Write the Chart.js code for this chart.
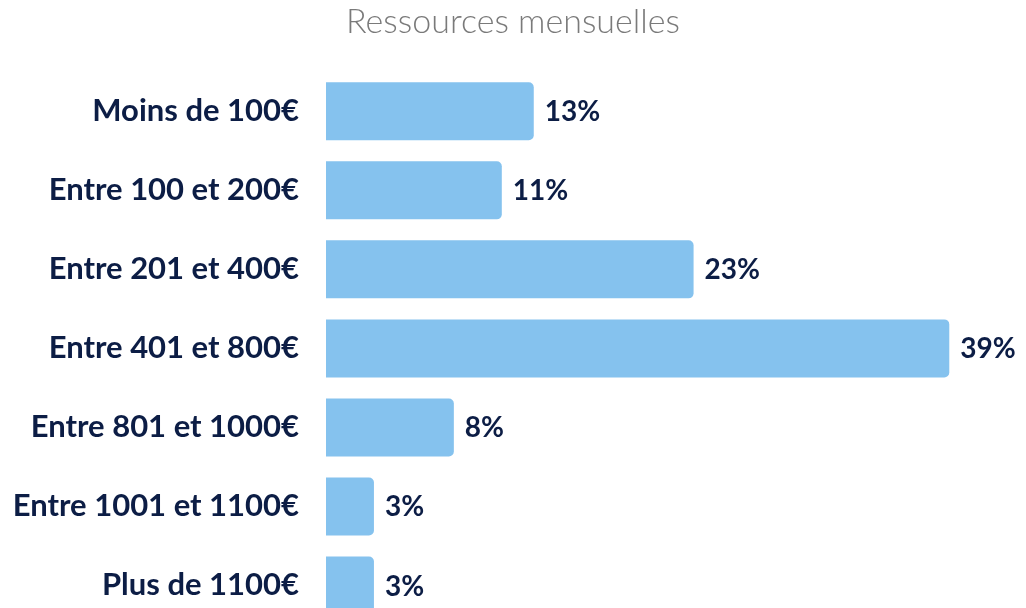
<!DOCTYPE html>
<html>
<head>
<meta charset="utf-8">
<script src="https://cdn.jsdelivr.net/npm/chart.js@4.4.0/dist/chart.umd.min.js"></script>
<style>
  html, body { margin: 0; padding: 0; background: #fff; overflow: hidden; }
  #myChart { display: block; }
</style>
</head>
<body>
<canvas id="myChart" width="1026" height="625"></canvas>
<script>
let labels = ['Moins de 100€', 'Entre 100 et 200€', 'Entre 201 et 400€', 'Entre 401 et 800€',
              'Entre 801 et 1000€', 'Entre 1001 et 1100€', 'Plus de 1100€'];
let values = [13, 11, 23, 39, 8, 3, 3];

const navy = '#0c1d45';

// writes the percentage to the right of each bar
const valueLabels = {
    id: 'valueLabels',
    afterDatasetsDraw(chart) {
        const ctx = chart.ctx;
        const meta = chart.getDatasetMeta(0);
        ctx.save();
        ctx.font = 'bold 28px Lato';
        ctx.fillStyle = navy;
        ctx.textAlign = 'left';
        ctx.textBaseline = 'middle';
        meta.data.forEach((bar, i) => {
            ctx.fillText(values[i] + '%', bar.x + 11, bar.y + 1);
        });
        ctx.restore();
    }
};

const data = {
    labels: labels,
    datasets: [{
        data: values,
        backgroundColor: '#85c2ee',
        borderWidth: 0,
        borderRadius: { topRight: 5, bottomRight: 5 },
        borderSkipped: 'start',
        categoryPercentage: 0.734,
        barPercentage: 1
    }]
};

const config = {
    type: 'bar',
    data: data,
    plugins: [valueLabels],
    options: {
        indexAxis: 'y',
        responsive: false,
        animation: false,
        layout: { padding: 0 },
        plugins: {
            legend: { display: false },
            tooltip: { enabled: false },
            title: {
                display: true,
                text: 'Ressources mensuelles',
                color: '#7a7a7a',
                font: { family: 'Lato', size: 34, weight: '300', lineHeight: 1.2 },
                padding: { top: 2, bottom: 29 }
            }
        },
        scales: {
            x: {
                display: false,
                min: 0,
                max: 43.8
            },
            y: {
                afterFit(axis) {
                    axis.width = 326;
                    axis.paddingTop = 0;
                    axis.paddingBottom = 0;
                },
                grid: { display: false, drawTicks: false },
                border: { display: false },
                ticks: {
                    color: navy,
                    padding: 27,
                    font: { family: 'Lato', size: 31, weight: 'bold' }
                }
            }
        }
    }
};

const myChart = new Chart(document.getElementById('myChart'), config);
</script>
</body>
</html>
